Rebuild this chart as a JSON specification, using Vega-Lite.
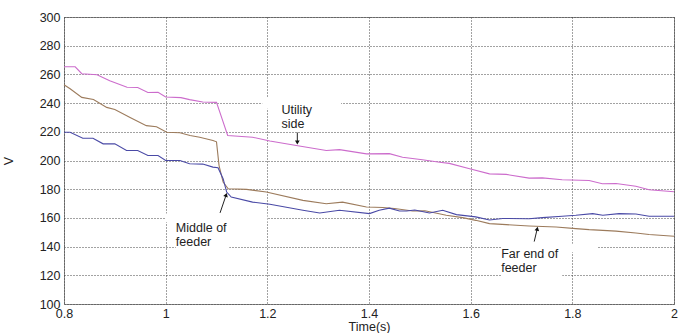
{
  "$schema": "https://vega.github.io/schema/vega-lite/v6.json",
  "width": 610,
  "height": 287,
  "autosize": "none",
  "padding": {"left": 64, "top": 17, "right": 14, "bottom": 29},
  "background": "white",
  "config": {
    "view": {"stroke": "#8a8a8a", "strokeWidth": 1},
    "font": "Liberation Sans",
    "axis": {
      "labelFont": "Liberation Sans",
      "titleFont": "Liberation Sans",
      "labelFontSize": 12.5,
      "titleFontSize": 12.5,
      "labelColor": "#222",
      "titleColor": "#222",
      "titleFontWeight": "normal",
      "labelOverlap": false,
      "domain": false,
      "ticks": false,
      "grid": true,
      "gridColor": "#444",
      "gridDash": [1, 2],
      "gridWidth": 1,
      "gridOpacity": 1
    }
  },
  "datasets": {
    "voltage": [
      {"node": "Utility side", "t": 0.8, "v": 265.3},
      {"node": "Utility side", "t": 0.822, "v": 265.3},
      {"node": "Utility side", "t": 0.835, "v": 260.5},
      {"node": "Utility side", "t": 0.865, "v": 259.8},
      {"node": "Utility side", "t": 0.89, "v": 255.6},
      {"node": "Utility side", "t": 0.924, "v": 251},
      {"node": "Utility side", "t": 0.945, "v": 250.9},
      {"node": "Utility side", "t": 0.965, "v": 247.4},
      {"node": "Utility side", "t": 0.985, "v": 247.6},
      {"node": "Utility side", "t": 1.0, "v": 244.2},
      {"node": "Utility side", "t": 1.03, "v": 243.8},
      {"node": "Utility side", "t": 1.047, "v": 242.4},
      {"node": "Utility side", "t": 1.073, "v": 240.8},
      {"node": "Utility side", "t": 1.1, "v": 240.5},
      {"node": "Utility side", "t": 1.112, "v": 228},
      {"node": "Utility side", "t": 1.122, "v": 217.4},
      {"node": "Utility side", "t": 1.171, "v": 216.2},
      {"node": "Utility side", "t": 1.205, "v": 213.6},
      {"node": "Utility side", "t": 1.257, "v": 210.4},
      {"node": "Utility side", "t": 1.316, "v": 207},
      {"node": "Utility side", "t": 1.342, "v": 207.6},
      {"node": "Utility side", "t": 1.395, "v": 204.6},
      {"node": "Utility side", "t": 1.44, "v": 204.8},
      {"node": "Utility side", "t": 1.466, "v": 202.3},
      {"node": "Utility side", "t": 1.505, "v": 200.5},
      {"node": "Utility side", "t": 1.539, "v": 198.8},
      {"node": "Utility side", "t": 1.558, "v": 198},
      {"node": "Utility side", "t": 1.598, "v": 194.2},
      {"node": "Utility side", "t": 1.637, "v": 190.7},
      {"node": "Utility side", "t": 1.67, "v": 190.3},
      {"node": "Utility side", "t": 1.715, "v": 187.7},
      {"node": "Utility side", "t": 1.741, "v": 187.9},
      {"node": "Utility side", "t": 1.78, "v": 186.6},
      {"node": "Utility side", "t": 1.833, "v": 186.1},
      {"node": "Utility side", "t": 1.859, "v": 183.8},
      {"node": "Utility side", "t": 1.886, "v": 184},
      {"node": "Utility side", "t": 1.925, "v": 182},
      {"node": "Utility side", "t": 1.951, "v": 179.6},
      {"node": "Utility side", "t": 2.0, "v": 178.2},

      {"node": "Far end of feeder", "t": 0.8, "v": 252.8},
      {"node": "Far end of feeder", "t": 0.812, "v": 250},
      {"node": "Far end of feeder", "t": 0.835, "v": 244},
      {"node": "Far end of feeder", "t": 0.858, "v": 242.5},
      {"node": "Far end of feeder", "t": 0.884, "v": 237},
      {"node": "Far end of feeder", "t": 0.9, "v": 235.6},
      {"node": "Far end of feeder", "t": 0.93, "v": 230},
      {"node": "Far end of feeder", "t": 0.962, "v": 224.3},
      {"node": "Far end of feeder", "t": 0.982, "v": 223.5},
      {"node": "Far end of feeder", "t": 1.002, "v": 219.7},
      {"node": "Far end of feeder", "t": 1.028, "v": 219.3},
      {"node": "Far end of feeder", "t": 1.048, "v": 217.4},
      {"node": "Far end of feeder", "t": 1.067, "v": 216.2},
      {"node": "Far end of feeder", "t": 1.093, "v": 213.9},
      {"node": "Far end of feeder", "t": 1.1, "v": 213},
      {"node": "Far end of feeder", "t": 1.105, "v": 196.5},
      {"node": "Far end of feeder", "t": 1.113, "v": 185},
      {"node": "Far end of feeder", "t": 1.123, "v": 180.3},
      {"node": "Far end of feeder", "t": 1.159, "v": 179.9},
      {"node": "Far end of feeder", "t": 1.198, "v": 178},
      {"node": "Far end of feeder", "t": 1.27, "v": 172.2},
      {"node": "Far end of feeder", "t": 1.316, "v": 169.9},
      {"node": "Far end of feeder", "t": 1.348, "v": 171},
      {"node": "Far end of feeder", "t": 1.395, "v": 167.6},
      {"node": "Far end of feeder", "t": 1.427, "v": 167.3},
      {"node": "Far end of feeder", "t": 1.45, "v": 166.5},
      {"node": "Far end of feeder", "t": 1.486, "v": 164.8},
      {"node": "Far end of feeder", "t": 1.51, "v": 165},
      {"node": "Far end of feeder", "t": 1.552, "v": 161.8},
      {"node": "Far end of feeder", "t": 1.584, "v": 160.2},
      {"node": "Far end of feeder", "t": 1.61, "v": 158.3},
      {"node": "Far end of feeder", "t": 1.637, "v": 156},
      {"node": "Far end of feeder", "t": 1.67, "v": 155.3},
      {"node": "Far end of feeder", "t": 1.715, "v": 154.4},
      {"node": "Far end of feeder", "t": 1.768, "v": 153.7},
      {"node": "Far end of feeder", "t": 1.807, "v": 152.5},
      {"node": "Far end of feeder", "t": 1.833, "v": 151.8},
      {"node": "Far end of feeder", "t": 1.86, "v": 151.3},
      {"node": "Far end of feeder", "t": 1.886, "v": 150.8},
      {"node": "Far end of feeder", "t": 1.925, "v": 149.5},
      {"node": "Far end of feeder", "t": 1.951, "v": 148.4},
      {"node": "Far end of feeder", "t": 2.0, "v": 147.2},

      {"node": "Middle of feeder", "t": 0.8, "v": 219.7},
      {"node": "Middle of feeder", "t": 0.812, "v": 219.7},
      {"node": "Middle of feeder", "t": 0.837, "v": 215.5},
      {"node": "Middle of feeder", "t": 0.857, "v": 215.5},
      {"node": "Middle of feeder", "t": 0.877, "v": 211.6},
      {"node": "Middle of feeder", "t": 0.9, "v": 211.6},
      {"node": "Middle of feeder", "t": 0.923, "v": 207},
      {"node": "Middle of feeder", "t": 0.945, "v": 207},
      {"node": "Middle of feeder", "t": 0.965, "v": 203.5},
      {"node": "Middle of feeder", "t": 0.985, "v": 203.5},
      {"node": "Middle of feeder", "t": 1.0, "v": 200},
      {"node": "Middle of feeder", "t": 1.028, "v": 200},
      {"node": "Middle of feeder", "t": 1.047, "v": 197.7},
      {"node": "Middle of feeder", "t": 1.073, "v": 197.5},
      {"node": "Middle of feeder", "t": 1.093, "v": 195.4},
      {"node": "Middle of feeder", "t": 1.103, "v": 195},
      {"node": "Middle of feeder", "t": 1.113, "v": 187.3},
      {"node": "Middle of feeder", "t": 1.12, "v": 178},
      {"node": "Middle of feeder", "t": 1.129, "v": 174.5},
      {"node": "Middle of feeder", "t": 1.171, "v": 171},
      {"node": "Middle of feeder", "t": 1.205, "v": 169.5},
      {"node": "Middle of feeder", "t": 1.27, "v": 165.3},
      {"node": "Middle of feeder", "t": 1.303, "v": 163.4},
      {"node": "Middle of feeder", "t": 1.342, "v": 165.3},
      {"node": "Middle of feeder", "t": 1.401, "v": 163},
      {"node": "Middle of feeder", "t": 1.42, "v": 165.3},
      {"node": "Middle of feeder", "t": 1.44, "v": 166.8},
      {"node": "Middle of feeder", "t": 1.46, "v": 164.8},
      {"node": "Middle of feeder", "t": 1.474, "v": 164.8},
      {"node": "Middle of feeder", "t": 1.49, "v": 165.5},
      {"node": "Middle of feeder", "t": 1.519, "v": 163.4},
      {"node": "Middle of feeder", "t": 1.545, "v": 165.3},
      {"node": "Middle of feeder", "t": 1.572, "v": 162.3},
      {"node": "Middle of feeder", "t": 1.61, "v": 160.7},
      {"node": "Middle of feeder", "t": 1.637, "v": 158.5},
      {"node": "Middle of feeder", "t": 1.663, "v": 159.6},
      {"node": "Middle of feeder", "t": 1.715, "v": 159.4},
      {"node": "Middle of feeder", "t": 1.741, "v": 160.2},
      {"node": "Middle of feeder", "t": 1.78, "v": 161.1},
      {"node": "Middle of feeder", "t": 1.807, "v": 161.8},
      {"node": "Middle of feeder", "t": 1.84, "v": 163},
      {"node": "Middle of feeder", "t": 1.86, "v": 161.8},
      {"node": "Middle of feeder", "t": 1.892, "v": 163},
      {"node": "Middle of feeder", "t": 1.925, "v": 162.7},
      {"node": "Middle of feeder", "t": 1.951, "v": 161.1},
      {"node": "Middle of feeder", "t": 2.0, "v": 161.1}
    ],
    "labelBoxes": [
      {"t1": 1.19, "t2": 1.345, "v1": 244, "v2": 236},
      {"t1": 1.22, "t2": 1.30, "v1": 236, "v2": 220.5},
      {"t1": 1.0, "t2": 1.2, "v1": 163, "v2": 157},
      {"t1": 1.02, "t2": 1.125, "v1": 157, "v2": 137},
      {"t1": 1.66, "t2": 1.85, "v1": 142, "v2": 136},
      {"t1": 1.66, "t2": 1.78, "v1": 136, "v2": 118}
    ],
    "notes": [
      {"t": 1.228, "v": 235.4, "line": ["Utility", "side"]},
      {"t": 1.02, "v": 152.8, "line": ["Middle of", "feeder"]},
      {"t": 1.66, "v": 134.7, "line": ["Far end of", "feeder"]}
    ],
    "arrows": [
      {"tailT": 1.259, "tailV": 219.5, "tipT": 1.259, "tipV": 212.5, "shape": "triangle-down", "angle": 0},
      {"tailT": 1.107, "tailV": 163.5, "tipT": 1.119, "tipV": 176, "shape": "triangle-up", "angle": 19},
      {"tailT": 1.725, "tailV": 143.5, "tipT": 1.731, "tipV": 152.5, "shape": "triangle-up", "angle": 12}
    ]
  },
  "encoding": {},
  "layer": [
    {
      "data": {"name": "labelBoxes"},
      "mark": {"type": "rect", "color": "white"},
      "encoding": {
        "x": {"field": "t1", "type": "quantitative"},
        "x2": {"field": "t2"},
        "y": {"field": "v1", "type": "quantitative"},
        "y2": {"field": "v2"}
      }
    },
    {
      "data": {"name": "voltage"},
      "mark": {"type": "line", "strokeWidth": 1.1, "interpolate": "linear"},
      "encoding": {
        "x": {"field": "t", "type": "quantitative",
          "scale": {"domain": [0.8, 2], "nice": false, "zero": false},
          "axis": {"values": [0.8, 1, 1.2, 1.4, 1.6, 1.8, 2], "format": "~g", "title": "Time(s)", "labelPadding": 3, "titlePadding": 1, "labelFlush": false}},
        "y": {"field": "v", "type": "quantitative",
          "scale": {"domain": [100, 300], "nice": false, "zero": false},
          "axis": {"values": [100, 120, 140, 160, 180, 200, 220, 240, 260, 280, 300], "tickCount": 11, "title": "V", "labelPadding": 4, "titlePadding": 24, "labelFlush": false}},
        "color": {
          "field": "node",
          "type": "nominal",
          "scale": {"domain": ["Utility side", "Far end of feeder", "Middle of feeder"], "range": ["#cc6ccc", "#9c7b5c", "#4a4aa6"]},
          "legend": null
        },
        "detail": {"field": "node"}
      }
    },
    {
      "data": {"name": "notes"},
      "mark": {"type": "text", "align": "left", "baseline": "middle", "font": "Liberation Sans", "fontSize": 12.5, "color": "#222", "lineHeight": 14},
      "encoding": {
        "x": {"field": "t", "type": "quantitative"},
        "y": {"field": "v", "type": "quantitative"},
        "text": {"field": "line"}
      }
    },
    {
      "data": {"name": "arrows"},
      "mark": {"type": "rule", "color": "#222", "strokeWidth": 1},
      "encoding": {
        "x": {"field": "tailT", "type": "quantitative"},
        "y": {"field": "tailV", "type": "quantitative"},
        "x2": {"field": "tipT"},
        "y2": {"field": "tipV"}
      }
    },
    {
      "data": {"name": "arrows"},
      "mark": {"type": "point", "filled": true, "color": "#111", "size": 22, "opacity": 1},
      "encoding": {
        "x": {"field": "tipT", "type": "quantitative"},
        "y": {"field": "tipV", "type": "quantitative"},
        "shape": {"field": "shape", "type": "nominal", "scale": null},
        "angle": {"field": "angle", "type": "quantitative", "scale": null}
      }
    }
  ]
}
